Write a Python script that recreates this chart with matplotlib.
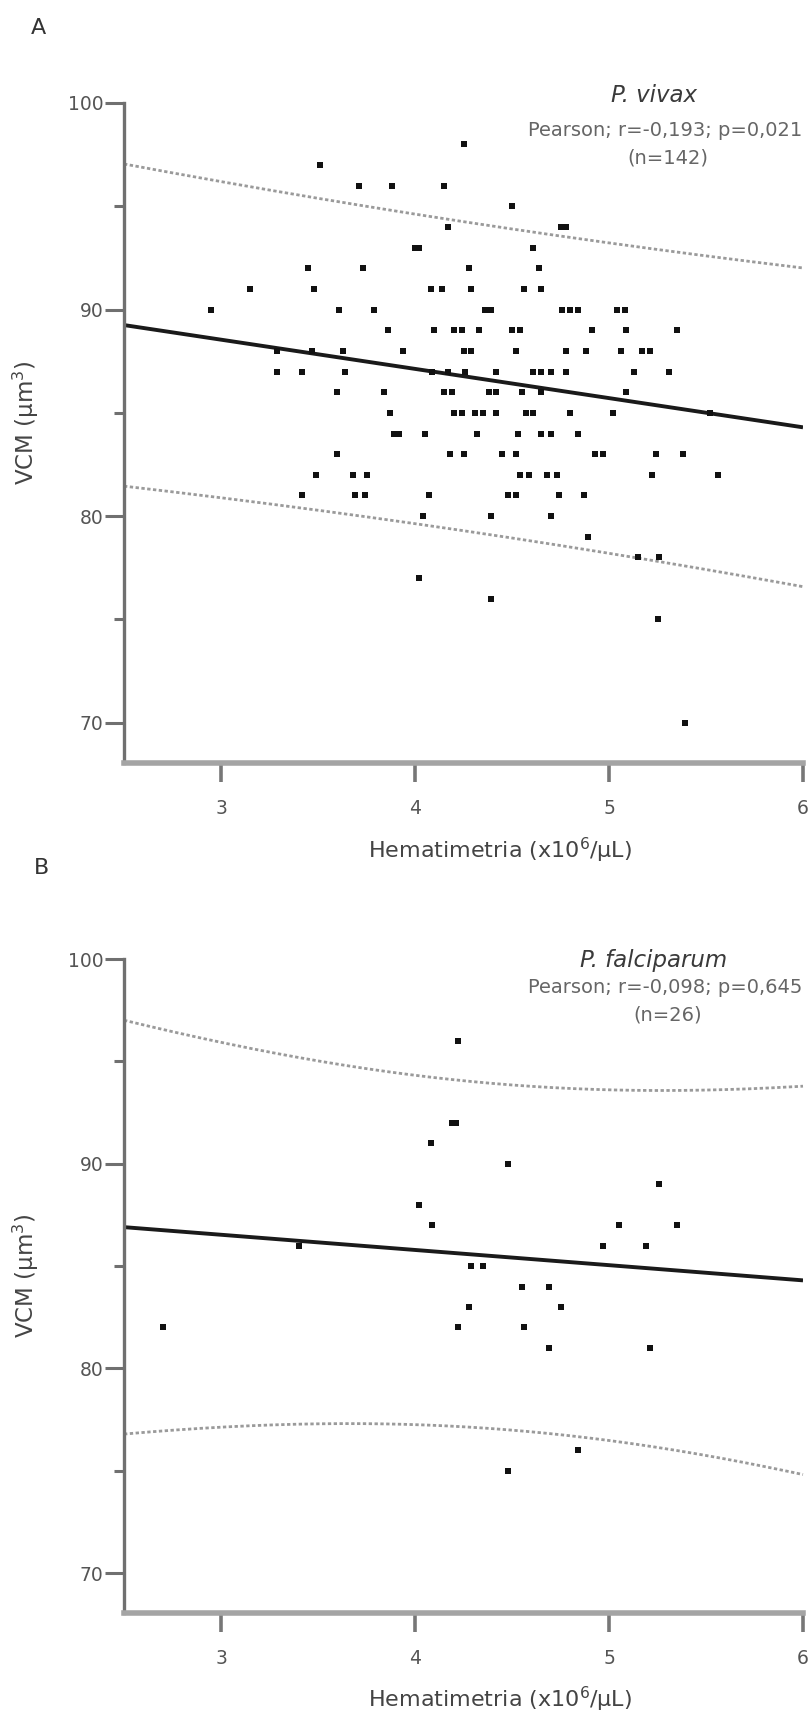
import numpy as np
import matplotlib
matplotlib.use("Agg")
import matplotlib.pyplot as plt

# ---------------- data ----------------
# Panel A: P. vivax  (hematimetria x10^6/uL, VCM um^3)
vivax_hemat = [
    4.25,
    3.51,
    3.71, 3.88, 4.15,
    4.50,
    4.17, 4.75, 4.78,
    4.00, 4.02, 4.61,
    3.45, 3.73, 4.28, 4.64,
    3.15, 3.48, 4.08, 4.14, 4.29, 4.56, 4.65,
    2.95, 3.61, 3.79, 4.36, 4.39, 4.76, 4.80, 4.84, 5.04, 5.08,
    3.86, 4.10, 4.20, 4.24, 4.33, 4.50, 4.54, 4.91, 5.09, 5.35,
    3.29, 3.47, 3.63, 3.94, 4.25, 4.29, 4.52, 4.78, 4.88, 5.06, 5.17, 5.21,
    3.29, 3.42, 3.64, 4.09, 4.17, 4.26, 4.42, 4.61, 4.65, 4.70, 4.78, 5.13, 5.31,
    3.60, 3.84, 4.15, 4.19, 4.38, 4.42, 4.55, 4.65, 5.09,
    3.87, 4.20, 4.24, 4.31, 4.35, 4.42, 4.57, 4.61, 4.80, 5.02, 5.52,
    3.89, 3.92, 4.05, 4.32, 4.53, 4.65, 4.70, 4.84,
    3.60, 4.18, 4.25, 4.45, 4.52, 4.93, 4.97, 5.24, 5.38,
    3.49, 3.68, 3.75, 4.54, 4.59, 4.68, 4.73, 5.22, 5.56,
    3.42, 3.69, 3.74, 4.07, 4.48, 4.52, 4.74, 4.87,
    4.04, 4.39, 4.70,
    4.89,
    5.15, 5.26,
    4.02,
    4.39,
    5.25,
    5.39,
]
vivax_vcm = [
    98,
    97,
    96, 96, 96,
    95,
    94, 94, 94,
    93, 93, 93,
    92, 92, 92, 92,
    91, 91, 91, 91, 91, 91, 91,
    90, 90, 90, 90, 90, 90, 90, 90, 90, 90,
    89, 89, 89, 89, 89, 89, 89, 89, 89, 89,
    88, 88, 88, 88, 88, 88, 88, 88, 88, 88, 88, 88,
    87, 87, 87, 87, 87, 87, 87, 87, 87, 87, 87, 87, 87,
    86, 86, 86, 86, 86, 86, 86, 86, 86,
    85, 85, 85, 85, 85, 85, 85, 85, 85, 85, 85,
    84, 84, 84, 84, 84, 84, 84, 84,
    83, 83, 83, 83, 83, 83, 83, 83, 83,
    82, 82, 82, 82, 82, 82, 82, 82, 82,
    81, 81, 81, 81, 81, 81, 81, 81,
    80, 80, 80,
    79,
    78, 78,
    77,
    76,
    75,
    70,
]

# Panel B: P. falciparum
falc_hemat = [4.22, 4.19, 4.21, 4.08, 4.48, 5.26, 4.02, 4.09, 5.05, 5.35,
              3.40, 4.97, 5.19, 4.29, 4.35, 4.55, 4.69, 4.28, 4.75, 2.70,
              4.22, 4.56, 4.69, 5.21, 4.84, 4.48]
falc_vcm = [96, 92, 92, 91, 90, 89, 88, 87, 87, 87,
            86, 86, 86, 85, 85, 84, 84, 83, 83, 82,
            82, 82, 81, 81, 76, 75]

# Regression lines as drawn in the picture (VCM at hematimetria 2.5 and 6)
fit_x = [2.5, 6.0]
vivax_fit_y = [89.25, 84.3]
falc_fit_y = [86.9, 84.3]

species = ["P. vivax", "P. falciparum"]
stats_text = ["Pearson; r=-0,193; p=0,021", "Pearson; r=-0,098; p=0,645"]
n_text = ["(n=142)", "(n=26)"]
panel_letters = ["A", "B"]
band_t = [1.62, 1.711]   # t-value used for the prediction bands

xticks = [3, 4, 5, 6]
yticks_major = [70, 80, 90, 100]
yticks_minor = [75, 85, 95]
xlim = (2.5, 6)
ylim = (68.05, 100)

# ---------------- figure ----------------
W, H = 811, 1719
fig = plt.figure(figsize=(W / 100, H / 100), dpi=100)
plt.rcParams["font.family"] = ["DejaVu Sans"]

def fx(px):
    return px / W

def fy(py):
    return 1 - py / H

axes_px = [(124, 103, 803, 763), (124, 959, 803, 1613)]
title_y = [95, 960]
stat_y = [130, 987]
n_y = [158, 1015]
letter_pos = [(38, 28), (42, 868)]

datasets = [(vivax_hemat, vivax_vcm, vivax_fit_y), (falc_hemat, falc_vcm, falc_fit_y)]

for i, (xs, ys, fit_y) in enumerate(datasets):
    l, t, r, b = axes_px[i]
    ax = fig.add_axes([fx(l), fy(b), fx(r) - fx(l), (b - t) / H])
    ax.set_xlim(*xlim)
    ax.set_ylim(*ylim)
    for s in ["top", "right"]:
        ax.spines[s].set_visible(False)
    ax.spines["left"].set_color("#707070")
    ax.spines["left"].set_linewidth(2.4)
    ax.spines["bottom"].set_color("#a4a4a4")
    ax.spines["bottom"].set_linewidth(4.0)

    x = np.asarray(xs, float)
    y = np.asarray(ys, float)
    slope = (fit_y[1] - fit_y[0]) / (fit_x[1] - fit_x[0])
    inter = fit_y[0] - slope * fit_x[0]
    resid = y - (inter + slope * x)
    n = len(x)
    s = np.sqrt(np.sum(resid ** 2) / (n - 2))
    xm = x.mean()
    sxx = np.sum((x - xm) ** 2)
    xg = np.linspace(xlim[0], xlim[1], 300)
    yg = inter + slope * xg
    hw = band_t[i] * s * np.sqrt(1 + 1 / n + (xg - xm) ** 2 / sxx)

    ax.plot(xg, yg + hw, color="#9a9a9a", lw=2.0, ls=(0, (1.2, 0.9)), zorder=2,
            clip_on=False)
    ax.plot(xg, yg - hw, color="#9a9a9a", lw=2.0, ls=(0, (1.2, 0.9)), zorder=2,
            clip_on=False)
    ax.plot(xg, yg, color="#1a1a1a", lw=2.8, zorder=2, solid_capstyle="butt")

    ax.plot(x, y, ls="none", marker="s", ms=4.6, mew=0, color="#111111",
            zorder=3, clip_on=False)

    ax.set_xticks(xticks)
    ax.set_xticklabels([str(v) for v in xticks])
    ax.set_yticks(yticks_major)
    ax.set_yticklabels([str(v) for v in yticks_major])
    ax.set_yticks(yticks_minor, minor=True)
    ax.tick_params(axis="x", length=14, width=2.6, color="#777777",
                   labelsize=13.5, labelcolor="#555555", pad=12)
    ax.tick_params(axis="y", which="major", length=14, width=2.2,
                   color="#707070", labelsize=13.5, labelcolor="#555555", pad=1)
    ax.tick_params(axis="y", which="minor", length=7, width=2.2,
                   color="#707070")

    ax.set_xlabel("Hematimetria (x10$^6$/µL)", fontsize=16, color="#444444")
    ax.xaxis.set_label_coords((500 - l) / (r - l), -(850 - 763) / 660)
    ax.xaxis.label.set_va("center")
    ax.set_ylabel("VCM (µm$^3$)", fontsize=16.5, color="#444444")
    ax.yaxis.set_label_coords((26 - l) / (r - l), 0.515)
    ax.yaxis.label.set_va("center")

    fig.text(fx(654), fy(title_y[i]), species[i], style="italic", fontsize=16.5,
             color="#3a3a3a", ha="center", va="center")
    fig.text(fx(665), fy(stat_y[i]), stats_text[i], fontsize=14,
             color="#666666", ha="center", va="center")
    fig.text(fx(668), fy(n_y[i]), n_text[i], fontsize=14,
             color="#666666", ha="center", va="center")
    lx, ly = letter_pos[i]
    fig.text(fx(lx), fy(ly), panel_letters[i], fontsize=16, color="#333333",
             ha="center", va="center")

fig.savefig("out.png", dpi=100)
